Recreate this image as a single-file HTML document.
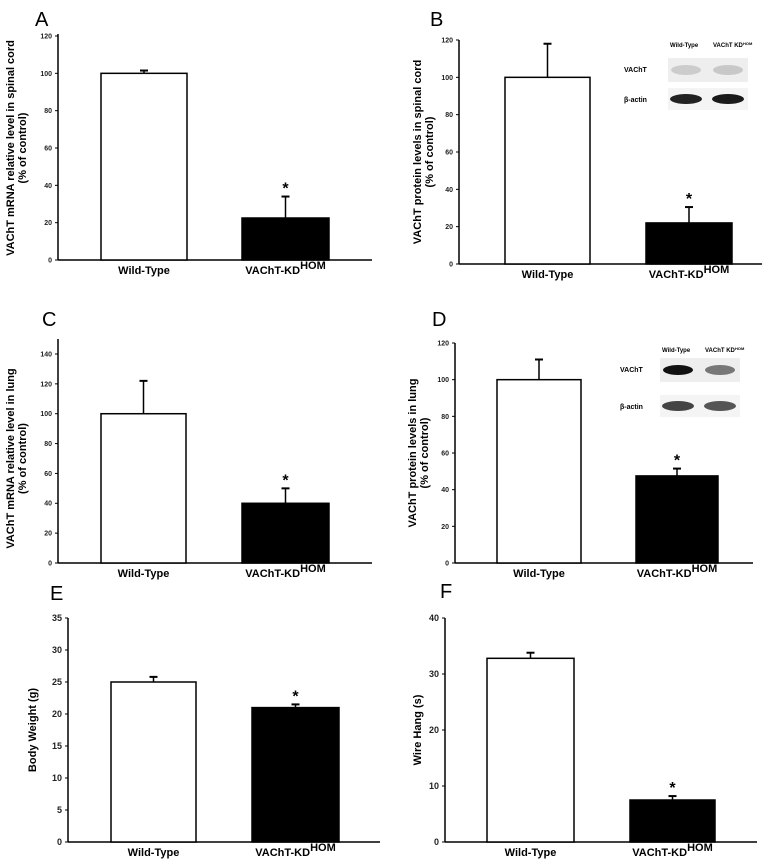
<!DOCTYPE html>
<html><head><meta charset="utf-8"><style>
body{margin:0;background:#fff}
svg{display:block}
text{font-family:"Liberation Sans",Arial,sans-serif}
</style></head><body>
<svg id="fig" width="780" height="868" viewBox="0 0 780 868" xmlns="http://www.w3.org/2000/svg"></svg>
<script>
const categories = ["Wild-Type", "VAChT-KD"];
const valuesA = [100, 22.5]; const errA = [1.5, 11.5]; const ticksA = [0,20,40,60,80,100,120];
const valuesB = [100, 22];   const errB = [18, 8.5];   const ticksB = [0,20,40,60,80,100,120];
const valuesC = [100, 40];   const errC = [22, 10];    const ticksC = [0,20,40,60,80,100,120,140];
const valuesD = [100, 47.5]; const errD = [11, 4];     const ticksD = [0,20,40,60,80,100,120];
const valuesE = [25, 21];    const errE = [0.8, 0.5];  const ticksE = [0,5,10,15,20,25,30,35];
const valuesF = [32.8, 7.5]; const errF = [1, 0.7];    const ticksF = [0,10,20,30,40];

const NS = "http://www.w3.org/2000/svg";
const svg = document.getElementById("fig");
function mk(tag, attrs, parent, txt){
  const e = document.createElementNS(NS, tag);
  for (const k in attrs) e.setAttribute(k, attrs[k]);
  if (txt !== undefined) e.textContent = txt;
  (parent||svg).appendChild(e);
  return e;
}

function panel(p){
  const g = mk("g", {});
  
  
  const ymax = p.ticks[p.ticks.length-1];
  const y = v => p.y0 - (v/ymax)*(p.y0 - p.yTop);
  const lt = mk("text", {x:p.lx, y:p.ly, "font-size":20, "font-family":"DejaVu Sans, sans-serif"}, g, p.letter);
  
  
  // axes
  const ya = mk("line", {x1:p.ax, y1:p.axTop, x2:p.ax, y2:p.y0, stroke:"#000", "stroke-width":1.5}, g);
  
  
  const xa = mk("line", {x1:p.ax, y1:p.y0, x2:p.axRight, y2:p.y0, stroke:"#000", "stroke-width":1.5}, g);
  
  
  p.ticks.forEach(t => {
    mk("line", {x1:p.ax-3, y1:y(t), x2:p.ax, y2:y(t), stroke:"#000", "stroke-width":1}, g);
    const tl = mk("text", {x:p.ax-6, y:y(t)+p.tfs*0.35, "font-size":p.tfs, "font-weight":"bold", "text-anchor":"end", fill:"#222"}, g, t);
    
    
  });
  // y title
  const yt = mk("text", {transform:`translate(${p.ytx},${(p.y0+p.yTop)/2}) rotate(-90)`, "font-size":11, "font-weight":"bold", "text-anchor":"middle"}, g);
  
  
  p.ytitle.forEach((l,i) => mk("tspan", {x:0, dy: i===0 ? 0 : 12}, yt, l));
  // bars
  categories.forEach((c,i) => {
    const [x1,x2] = p.bars[i];
    const v = p.vals[i], e = p.errs[i];
    const xm = (x1+x2)/2;
    const el = mk("line", {x1:xm, y1:y(v), x2:xm, y2:y(v+e), stroke:"#000", "stroke-width":1.5}, g);
    
    
    mk("line", {x1:xm-4, y1:y(v+e), x2:xm+4, y2:y(v+e), stroke:"#000", "stroke-width":2}, g);
    const b = mk("rect", {x:x1, y:y(v), width:x2-x1, height:y(0)-y(v), fill:i===0?"#fff":"#000", stroke:"#000", "stroke-width":1.5}, g);
    
    
    if (i===1){
      const s = mk("text", {x:xm, y:y(v+e)-3, "font-size":16, "font-weight":"bold", "text-anchor":"middle"}, g, "*");
      
      
    }
    const lab = mk("text", {x:xm, y:p.y0+14, "font-size":11, "font-weight":"bold", "text-anchor":"middle"}, g, c);
    
    
    if (i===1) mk("tspan", {dy:-5, "font-size":11}, lab, "HOM");
  });
  if (p.blot){
    const b = p.blot;
    const bg = mk("g", {}, g);
    
    
    mk("text", {x:b.x+2, y:b.ly, "font-size":6, "font-weight":"bold"}, bg, "Wild-Type");
    mk("text", {x:b.x+45, y:b.ly, "font-size":6, "font-weight":"bold"}, bg, "VAChT KD");
    mk("text", {x:b.x+75, y:b.ly-2, "font-size":4, "font-weight":"bold"}, bg, "HOM");
    mk("text", {x:b.rx, y:b.r1+14, "font-size":7, "font-weight":"bold"}, bg, "VAChT");
    mk("text", {x:b.rx, y:b.r2+14, "font-size":7, "font-weight":"bold"}, bg, "β-actin");
    mk("rect", {x:b.x, y:b.r1, width:80, height:24, fill:"#eee"}, bg);
    mk("rect", {x:b.x, y:b.r2, width:80, height:22, fill:"#f4f4f4"}, bg);
    mk("ellipse", {cx:b.x+18, cy:b.r1+12, rx:15, ry:5, fill:b.c1[0]}, bg);
    mk("ellipse", {cx:b.x+60, cy:b.r1+12, rx:15, ry:5, fill:b.c1[1]}, bg);
    mk("ellipse", {cx:b.x+18, cy:b.r2+11, rx:16, ry:5, fill:b.c2[0]}, bg);
    mk("ellipse", {cx:b.x+60, cy:b.r2+11, rx:16, ry:5, fill:b.c2[1]}, bg);
  }
}

panel({letter:"A", lx:35, ly:26, ax:58, axTop:34, y0:260, yTop:36, axRight:372, ticks:ticksA, vals:valuesA, errs:errA,
  bars:[[101,187],[242,329]], tfs:7, ytx:14, ytitle:["VAChT  mRNA relative level in spinal cord","(% of control)"]});
panel({letter:"B", lx:430, ly:26, ax:459, axTop:40, y0:264, yTop:40, axRight:762, ticks:ticksB, vals:valuesB, errs:errB,
  bars:[[505,590],[646,732]], tfs:7, ytx:421, ytitle:["VAChT protein levels in spinal cord","(% of control)"],
  blot:{x:668, ly:47, rx:624, r1:58, r2:88, c1:["#ccc","#c8c8c8"], c2:["#222","#1a1a1a"]}});
panel({letter:"C", lx:42, ly:326, ax:58, axTop:339, y0:563, yTop:354, axRight:372, ticks:ticksC, vals:valuesC, errs:errC,
  bars:[[101,186],[242,329]], tfs:7, ytx:14, ytitle:["VAChT  mRNA relative level in lung","(% of control)"]});
panel({letter:"D", lx:432, ly:326, ax:455, axTop:343, y0:563, yTop:343, axRight:753, ticks:ticksD, vals:valuesD, errs:errD,
  bars:[[497,581],[636,718]], tfs:7, ytx:416, ytitle:["VAChT  protein levels in lung","(% of control)"],
  blot:{x:660, ly:352, rx:620, r1:358, r2:395, c1:["#111","#777"], c2:["#444","#555"]}});
panel({letter:"E", lx:50, ly:600, ax:68, axTop:618, y0:842, yTop:618, axRight:380, ticks:ticksE, vals:valuesE, errs:errE,
  bars:[[111,196],[252,339]], tfs:9, ytx:36, ytitle:["Body Weight (g)"]});
panel({letter:"F", lx:440, ly:598, ax:445, axTop:618, y0:842, yTop:618, axRight:757, ticks:ticksF, vals:valuesF, errs:errF,
  bars:[[487,574],[630,715]], tfs:9, ytx:421, ytitle:["Wire Hang (s)"]});
</script>
</body></html>
